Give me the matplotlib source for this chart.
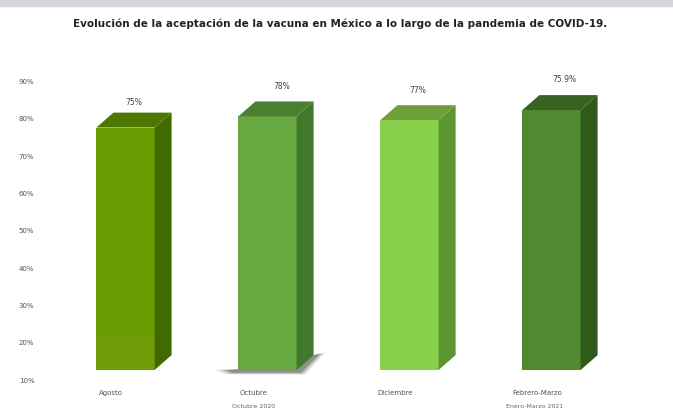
import matplotlib
matplotlib.use("Agg")
import matplotlib.pyplot as plt
from matplotlib.patches import Polygon, Rectangle

W, H = 673, 409
categories = ["Agosto", "Octubre", "Diciembre", "Febrero-Marzo"]
periods = ["", "Octubre 2020", "", "Enero-Marzo 2021"]
bar_values = [75, 78, 77, 79.7]
bar_labels = ["75%", "78%", "77%", "75.9%"]
axis_values = [10, 20, 30, 40, 50, 60, 70, 80, 90]
axis_labels = ["10%", "20%", "30%", "40%", "50%", "60%", "70%", "80%", "90%"]
front_colors = ["#699a00", "#68a840", "#88d04a", "#4f8a30"]
side_colors = ["#3f6b00", "#40782c", "#5c9632", "#2f5a1c"]
top_colors = ["#4c7800", "#4a8030", "#6fa038", "#38621f"]
title = "Evolución de la aceptación de la vacuna en México a lo largo de la pandemia de COVID-19."

base = 10
width = 0.41
depth_x = 17 / 142
depth_y = 4.0
tick_shift = 2.7

fig = plt.figure(figsize=(W / 100, H / 100), dpi=100)
fig.patches.append(Rectangle((0, 1 - 6 / H), 1, 6 / H, transform=fig.transFigure, color="#d4d4da"))
left_px = 40
ax = fig.add_axes([left_px / W, 0, 1 - left_px / W, 1])
ax.set_xlim((left_px - 125.5) / 142, (W - 125.5) / 142)
ax.set_ylim(10 - 39 / 3.73, 10 + 370 / 3.73)
for s in ax.spines.values():
    s.set_visible(False)
ax.set_xticks([])
ax.set_yticks([v - tick_shift for v in axis_values])
ax.set_yticklabels(axis_labels, fontsize=5, color="#555555")
ax.tick_params(axis="y", length=0, pad=4)

# soft shadow under the second bar, built from stacked translucent layers
x1 = 1 + width / 2
for grow, alpha in [(1.0, 0.18), (0.6, 0.25), (0.25, 0.35)]:
    ax.add_patch(Polygon([(1 - width / 2 - 0.06 - 0.1 * grow, base),
                          (x1, base + 1.0),
                          (x1 + depth_x, base + depth_y),
                          (x1 + depth_x + 0.03 + 0.05 * grow, base + depth_y + 0.2 + 0.5 * grow),
                          (x1 + 0.02 + 0.04 * grow, base - 0.6 - 0.6 * grow),
                          (1 - width / 2 - 0.03 - 0.05 * grow, base - 0.6 - 0.6 * grow)],
                         closed=True, color="#3f4a3c", alpha=alpha, lw=0))

for i, v in enumerate(bar_values):
    x0, x1 = i - width / 2, i + width / 2
    ax.add_patch(Rectangle((x0, base), width, v - base, color=front_colors[i], lw=0))
    ax.add_patch(Polygon([(x1, base), (x1 + depth_x, base + depth_y),
                          (x1 + depth_x, v + depth_y), (x1, v)],
                         closed=True, color=side_colors[i], lw=0))
    ax.add_patch(Polygon([(x0, v), (x1, v), (x1 + depth_x, v + depth_y),
                          (x0 + depth_x, v + depth_y)],
                         closed=True, color=top_colors[i], lw=0))

# faint lighter band along the foot of the first column
ax.add_patch(Rectangle((-width / 2, base), width, 9.3, color="white", alpha=0.04, lw=0))

label_x_nudge = [0.0, 0.04, 0.0, 0.03]
label_y_nudge = [-1.0, 0.3, 0.0, 0.5]
for i, v in enumerate(bar_values):
    ax.text(i + depth_x / 2 + label_x_nudge[i], v + depth_y + 2.6 + label_y_nudge[i], bar_labels[i],
            ha="center", va="bottom", fontsize=5.5, color="#444444")
    ax.text(i - 0.1, base - 6.2, categories[i], ha="center", va="center",
            fontsize=5, color="#555555")
    if periods[i]:
        px = i - 0.1 if i == 1 else i - 0.12
        ax.text(px, base - 9.7, periods[i], ha="center", va="center", fontsize=4.5, color="#666666")

fig.text(340 / W, 1 - 24 / H, title, ha="center", va="center", fontsize=7.45,
         fontweight="bold", color="#222222")
fig.savefig("out.png", dpi=100)
